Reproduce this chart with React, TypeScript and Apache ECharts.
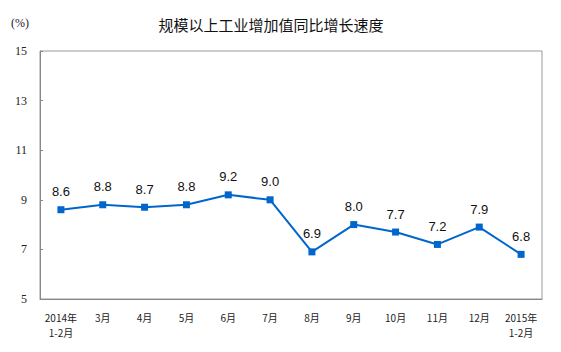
import React, { useEffect, useRef } from "react";
import * as echarts from "echarts";

const categories = ["2014年\n1-2月", "3月", "4月", "5月", "6月", "7月", "8月", "9月", "10月", "11月", "12月", "2015年\n1-2月"];
const growth = [8.6, 8.8, 8.7, 8.8, 9.2, 9.0, 6.9, 8.0, 7.7, 7.2, 7.9, 6.8];
const titleText = "规模以上工业增加值同比增长速度";
const unitText = "(%)";

export default function App() {
  const ref = useRef<HTMLDivElement>(null);
  useEffect(() => {
    const chart = echarts.init(ref.current!, null, { renderer: "svg" });
    chart.setOption({
      animation: false,
      backgroundColor: "#ffffff",
      title: {
        text: titleText,
        left: 266,
        textAlign: "center",
        top: 12,
        textStyle: { fontSize: 15, fontWeight: "normal", color: "#111", fontFamily: "Noto Sans CJK SC" },
      },
      graphic: [
        {
          type: "text",
          left: 11,
          top: 17,
          style: { text: unitText, fontSize: 12, fill: "#222", fontFamily: "Liberation Serif" },
        },
      ],
      grid: {
        left: 40,
        right: 19,
        top: 51,
        bottom: 53,
        show: true,
        borderColor: "#999",
        borderWidth: 1,
        containLabel: false,
        outerBoundsMode: "none",
      },
      xAxis: {
        type: "category",
        data: categories,
        boundaryGap: true,
        axisLine: { lineStyle: { color: "#888", width: 1 } },
        axisTick: { inside: true, length: 4, interval: 0, lineStyle: { color: "#888" } },
        axisLabel: {
          interval: 0,
          margin: 11,
          fontSize: 10,
          lineHeight: 15,
          color: "#222",
          fontFamily: "Noto Sans CJK SC",
        },
        splitLine: { show: false },
      },
      yAxis: {
        type: "value",
        min: 5,
        max: 15,
        interval: 2,
        axisLine: { show: true, lineStyle: { color: "#888", width: 1 } },
        axisTick: { show: true, inside: true, length: 3, lineStyle: { color: "#888" } },
        axisLabel: { margin: 13, fontSize: 12, color: "#222", fontFamily: "Liberation Serif" },
        splitLine: { show: false },
      },
      series: [
        {
          type: "line",
          data: growth,
          symbol: "rect",
          symbolSize: 7,
          lineStyle: { color: "#0066cc", width: 2 },
          itemStyle: { color: "#0066cc" },
          label: {
            show: true,
            position: "top",
            distance: 8,
            fontSize: 13,
            color: "#111",
            fontFamily: "Liberation Sans",
            formatter: (p: any) => Number(p.value).toFixed(1),
          },
        },
      ],
    });
    return () => chart.dispose();
  }, []);
  return <div ref={ref} style={{ width: 561, height: 352, position: "absolute", left: 0, top: 0 }} />;
}
